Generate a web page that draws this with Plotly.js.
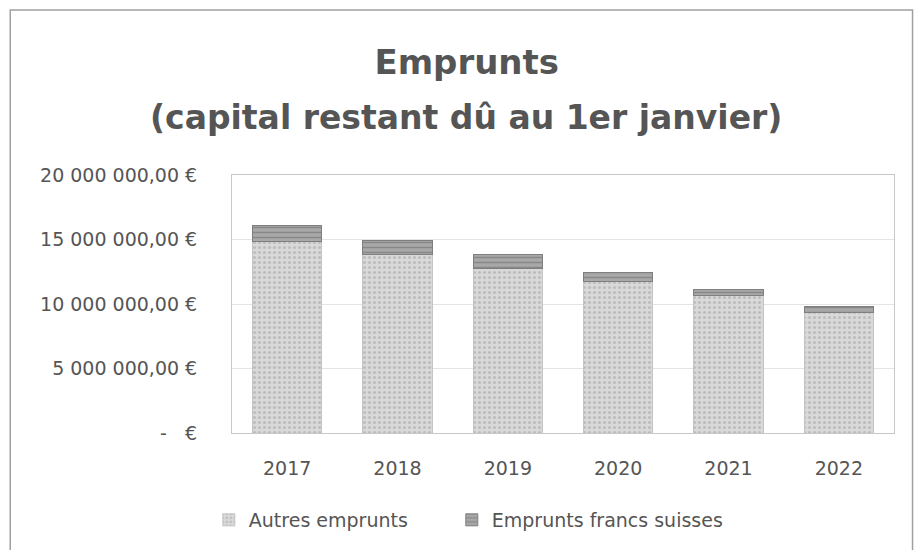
<!DOCTYPE html>
<html>
<head>
<meta charset="utf-8">
<script src="https://cdn.plot.ly/plotly-3.0.1.min.js"></script>
<style>html,body{margin:0;padding:0;background:#fff;}#chart{width:917px;height:550px;}</style>
</head>
<body>
<div id="chart"></div>
<script>
var years = ["2017", "2018", "2019", "2020", "2021", "2022"];
var autresEmprunts = [14880000, 13800000, 12790000, 11710000, 10680000, 9380000];
var empruntsFrancsSuisses = [1170000, 1160000, 1010000, 770000, 480000, 390000];
var tickValues = [0, 5000000, 10000000, 15000000, 20000000];
var tickLabels = ["-   €", "5 000 000,00 €", "10 000 000,00 €", "15 000 000,00 €", "20 000 000,00 €"];
var titleLine1 = "Emprunts";
var titleLine2 = "(capital restant dû au 1er janvier)";

var textColor = "#555555";
var fontFam = "'DejaVu Sans', 'Noto Sans', sans-serif";

var traces = [
  {
    type: "bar", name: "Autres emprunts", x: years, y: autresEmprunts, legend: "legend",
    marker: {color: "#d6d6d6", line: {color: "#c4c4c4", width: 1},
             pattern: {shape: ".", fgcolor: "#bdbdbd", bgcolor: "#d9d9d9", size: 5, solidity: 0.3}}
  },
  {
    type: "bar", name: "Emprunts francs suisses", x: years, y: empruntsFrancsSuisses, legend: "legend2",
    marker: {color: "#9c9c9c", line: {color: "#7f7f7f", width: 1},
             pattern: {shape: "-", fgcolor: "#888888", bgcolor: "#a8a8a8", size: 5, solidity: 0.3}}
  }
];

var legendCommon = {
  orientation: "h", xanchor: "left", y: -0.332, yanchor: "middle",
  font: {size: 19, color: textColor}, itemwidth: 30, bgcolor: "rgba(0,0,0,0)"
};

var layout = {
  width: 917, height: 550,
  paper_bgcolor: "#ffffff", plot_bgcolor: "#ffffff",
  barmode: "stack", bargap: 0.37,
  margin: {l: 232, r: 23, t: 175, b: 116},
  font: {family: fontFam, color: textColor, size: 18},
  title: {
    text: "<b>" + titleLine1 + "</b>",
    font: {family: fontFam, size: 34, color: textColor},
    x: 0.509, xanchor: "center", xref: "container",
    y: 0.887, yanchor: "middle", yref: "container"
  },
  annotations: [
    {text: "<b>" + titleLine2 + "</b>", xref: "paper", yref: "paper",
     x: 0.3535, y: 1.224, xanchor: "center", yanchor: "middle", showarrow: false,
     font: {family: fontFam, size: 33, color: textColor}}
  ],
  xaxis: {
    type: "category", showgrid: false, zeroline: false,
    showline: true, linecolor: "#c8c8c8", linewidth: 1, mirror: true,
    ticks: "", ticklabelstandoff: 18,
    tickfont: {size: 19, color: textColor}
  },
  yaxis: {
    range: [0, 20000000], tickvals: tickValues, ticktext: tickLabels,
    showgrid: true, gridcolor: "#e4e4e4", gridwidth: 1, zeroline: false,
    showline: true, linecolor: "#c8c8c8", linewidth: 1, mirror: true,
    ticks: "", ticklabelstandoff: 30,
    tickfont: {size: 19, color: textColor}
  },
  legend: Object.assign({}, legendCommon, {x: -0.035}),
  legend2: Object.assign({}, legendCommon, {x: 0.332}),
  showlegend: true,
  shapes: [
    {type: "rect", xref: "paper", yref: "paper", x0: -0.335, x1: 1.028, y0: -0.5, y1: 1.64,
     line: {color: "#a0a0a0", width: 1.5}, fillcolor: "rgba(0,0,0,0)", layer: "below"}
  ]
};

Plotly.newPlot("chart", traces, layout, {displayModeBar: false, staticPlot: true});
</script>
</body>
</html>
